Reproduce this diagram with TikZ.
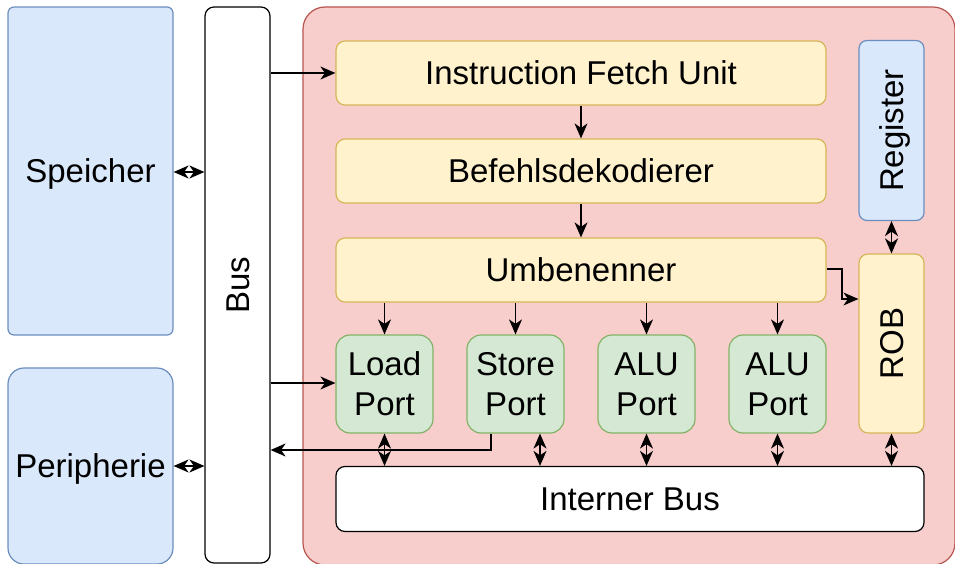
\documentclass[tikz,border=0pt]{standalone}
\usepackage{fontspec}
\setmainfont{Liberation Sans}
\usetikzlibrary{arrows.meta}
\definecolor{blueF}{HTML}{DAE8FC}\definecolor{blueD}{HTML}{6C8EBF}
\definecolor{redF}{HTML}{F8CECC}\definecolor{redD}{HTML}{B85450}
\definecolor{yelF}{HTML}{FFF2CC}\definecolor{yelD}{HTML}{D6B656}
\definecolor{grnF}{HTML}{D5E8D4}\definecolor{grnD}{HTML}{82B366}
\tikzset{
  lbl/.style={font=\fontsize{33}{40}\selectfont},
  one/.style={text height=26.5pt, text depth=3.5pt},
  box/.style={draw, line width=1.2pt, inner sep=0pt, align=center, lbl},
  bluebox/.style={box, fill=blueF, draw=blueD},
  yelbox/.style={box, fill=yelF, draw=yelD, rounded corners=9pt},
  grnbox/.style={box, fill=grnF, draw=grnD, rounded corners=14pt},
  whitebox/.style={box, fill=white, draw=black, rounded corners=9pt},
  tip/.tip={Stealth[length=15pt,width=13pt,inset=4.5pt]},
  conn/.style={line width=1.3pt, -tip},
  biconn/.style={line width=1.3pt, tip-tip},
}
\begin{document}
\begin{tikzpicture}[x=1pt,y=-1pt]
\useasboundingbox (0,0) rectangle (955,564);
% outer components
\node[bluebox, one, rounded corners=6pt, minimum width=165pt, minimum height=328pt] (mem) at (90.5,171) {Speicher};
\node[bluebox, one, rounded corners=16pt, minimum width=165pt, minimum height=196pt] (per) at (90.5,466) {Peripherie};
\node[whitebox, minimum width=65pt, minimum height=556pt] (bus) at (237.5,285) {};
\node[lbl, one, rotate=90] (buslbl) at (237.5,285) {Bus};
% processor
\node[box, fill=redF, draw=redD, rounded corners=22pt, minimum width=652pt, minimum height=558pt] (cpu) at (629,286) {};
\node[yelbox, one, minimum width=490pt, minimum height=64pt] (ifu) at (581,73) {Instruction Fetch Unit};
\node[yelbox, one, minimum width=490pt, minimum height=64pt] (dec) at (581,171) {Befehlsdekodierer};
\node[yelbox, one, minimum width=490pt, minimum height=64pt] (ren) at (581,270) {Umbenenner};
\node[bluebox, rounded corners=8pt, minimum width=65pt, minimum height=180pt] (reg) at (891.5,130.5) {};
\node[lbl, one, rotate=90] (reglbl) at (891.5,130.5) {Register};
\node[yelbox, minimum width=65pt, minimum height=179pt] (rob) at (891.5,343.5) {};
\node[lbl, one, rotate=90] (roblbl) at (891.5,343.5) {ROB};
\node[grnbox, minimum width=97pt, minimum height=98pt] (load) at (384.5,384) {Load\\Port};
\node[grnbox, minimum width=97pt, minimum height=98pt] (store) at (515.5,384) {Store\\Port};
\node[grnbox, minimum width=97pt, minimum height=98pt] (alua) at (646.5,384) {ALU\\Port};
\node[grnbox, minimum width=97pt, minimum height=98pt] (alub) at (777.5,384) {ALU\\Port};
\node[whitebox, one, minimum width=588pt, minimum height=65pt] (ibus) at (630,499) {Interner Bus};
% external connections
\draw[biconn] (mem.east |- 0,172) -- (bus.west |- 0,172);
\draw[biconn] (per.east |- 0,466) -- (bus.west |- 0,466);
\draw[conn] (bus.east |- 0,73) -- (ifu.west);
\draw[conn] (bus.east |- 0,383) -- (load.west |- 0,383);
\draw[conn] (store.south -| 491,0) |- (bus.east |- 0,450);
% pipeline
\draw[conn] (ifu) -- (dec);
\draw[conn] (dec) -- (ren);
\foreach \p in {load,store,alua,alub}
  \draw[conn] (ren.south -| \p) -- (\p.north);
\draw[conn] (ren.east |- 0,269) -| (842,299) -- (rob.west |- 0,299);
\draw[biconn] (reg.south) -- (rob.north);
% internal bus
\draw[biconn] (load.south) -- (ibus.north -| load);
\draw[biconn] (store.south -| 540,0) -- (ibus.north -| 540,0);
\draw[biconn] (alua.south) -- (ibus.north -| alua);
\draw[biconn] (alub.south) -- (ibus.north -| alub);
\draw[biconn] (rob.south) -- (ibus.north -| rob);
\end{tikzpicture}
\end{document}
